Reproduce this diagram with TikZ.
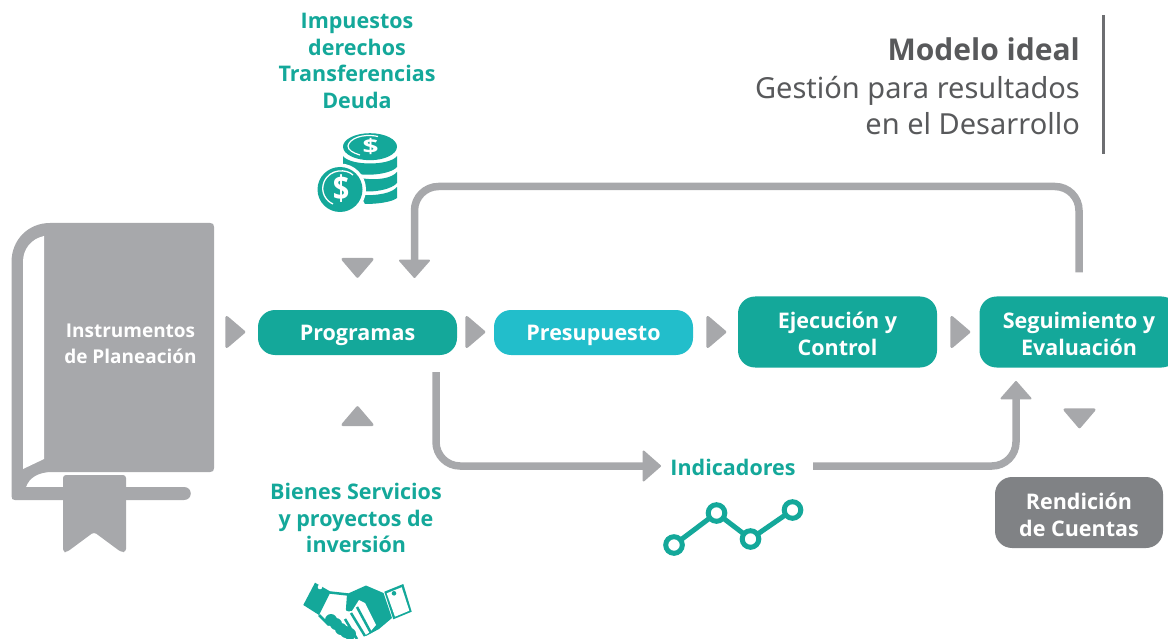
\documentclass[tikz,border=0pt]{standalone}
\usepackage{fontspec}
\setmainfont{Noto Sans}
\newfontfamily\boldfam{Open Sans}
\usepackage{xcolor}
\usetikzlibrary{arrows.meta,shapes.geometric}
\definecolor{tealbox}{HTML}{14A89A}
\definecolor{cyanbox}{HTML}{22BECB}
\definecolor{greyflow}{HTML}{A7A8AB}
\definecolor{greybox}{HTML}{808285}
\definecolor{greybar}{HTML}{6D6E71}
\definecolor{greytext}{HTML}{58595B}
\newcommand{\twolines}[2]{\raisebox{-10pt}[0pt][0pt]{\begin{tabular}{@{}c@{}}#1\\#2\end{tabular}}}
\tikzset{
  stepbox/.style={rounded corners=17pt, minimum width=199pt, fill=tealbox, text=white, align=center, font=\fontsize{21.5}{26.8}\boldfam\bfseries},
  tealtext/.style={text=tealbox, align=center, font=\fontsize{21.5}{26.6}\boldfam\bfseries},
  titletext/.style={text=greytext, align=right, anchor=east, inner sep=0pt, font=\fontsize{29}{36}\selectfont},
  marker/.style={isosceles triangle, isosceles triangle stretches, fill=greyflow, draw=greyflow, line width=3pt, line join=round, inner sep=0pt, minimum height=17pt, minimum width=29pt},
  flow/.style={draw=greyflow, line width=7.5pt, rounded corners=24pt, -{Triangle[round, line width=2pt, width=33pt, length=19pt]}},
}
\begin{document}
\begin{tikzpicture}[x=1pt, y=-1pt]
  \useasboundingbox (0,0) rectangle (1168,639);

  \fill[greyflow] (11.5,262) .. controls (11.5,240) and (28,223) .. (50,223) -- (210,223) .. controls (213,223) and (214,224) .. (214,227)
    -- (214,468) .. controls (214,471) and (213,472) .. (210,472) -- (52,472) .. controls (38,472) and (29,478) .. (26,487) -- (184,487)
    .. controls (193,487) and (193,500) .. (184,500) -- (15,500) .. controls (12.5,500) and (11.5,499) .. (11.5,496) -- cycle;
  \fill[white] (23,262) .. controls (23,249) and (31,239) .. (44,236) -- (44,459) -- (23,469) -- cycle;
  \fill[greyflow, rounded corners=3pt] (63,475) -- (126,475) -- (126,552) -- (121,552) -- (94,532) -- (67,552) -- (63,552) -- cycle;
  \node[text=white, align=center, font=\fontsize{19}{26}\boldfam\bfseries] (plan) at (130.5,344) {Instrumentos\\de Planeación};

  \node[stepbox, minimum height=45pt, text depth=0pt] (prog) at (357.5,332.5) {Programas};
  \node[stepbox, minimum height=45pt, text depth=0pt, fill=cyanbox] (pres) at (593.5,332.5) {Presupuesto};
  \node[stepbox, minimum height=71pt] (ejec) at (837.5,332) {\twolines{Ejecución y}{Control}};
  \node[stepbox, minimum height=71pt] (segu) at (1079,332) {\twolines{Seguimiento y}{Evaluación}};
  \node[stepbox, minimum height=71pt, minimum width=168pt, fill=greybox] (rend) at (1079,512.5) {\twolines{Rendición}{de Cuentas}};

  \node[marker] (m1) at (233.5,332) {};
  \node[marker] (m2) at (473.5,332) {};
  \node[marker] (m3) at (714.5,332) {};
  \node[marker] (m4) at (958.5,332) {};
  \node[marker, shape border rotate=-90] (m5) at (357.5,266) {};
  \node[marker, shape border rotate=90] (m6) at (357.5,418) {};
  \node[marker, shape border rotate=-90] (m7) at (1079.5,416.5) {};

  \node[tealtext] (ingresos) at (357,61) {Impuestos\\derechos\\Transferencias\\Deuda};
  \node[tealtext] (bienes) at (356,518) {Bienes Servicios\\y proyectos de\\inversión};
  \node[tealtext] (indi) at (733,467) {Indicadores};

  \node[titletext, font=\fontsize{30}{36}\boldfam\bfseries] (titulo) at (1080,49) {Modelo ideal};
  \node[titletext] (subtitulo) at (1080,106) {Gestión para resultados\\en el Desarrollo};
  \draw[greybar, line width=3pt] (1103,15) -- (1103,154);

  \coordinate (a) at (1079,272.5);
  \coordinate (b) at (414.5,278);
  \coordinate (c) at (436,372);
  \coordinate (d) at (661,466);
  \coordinate (e) at (813,466);
  \coordinate (f) at (1016,381);
  \draw[flow] (a) -- (1079,186.5) -- (414.5,186.5) -- (b);
  \draw[flow] (c) -- (d -| c) -- (d);
  \draw[flow] (e) -- (e -| f) -- (f);

  % monedas
  \fill[tealbox] (343,156) .. controls (350,166) and (390,166) .. (397,156) -- (397,167) .. controls (390,175) and (360,178) .. (343,170) -- cycle;
  \fill[tealbox] (360,178) .. controls (378,181) and (392,178) .. (397,172) -- (397,183) .. controls (392,189) and (375,193) .. (360,191) -- cycle;
  \fill[tealbox] (360,195) .. controls (378,196) and (392,193) .. (397,187) -- (397,198) .. controls (392,202) and (378,204) .. (365,204) -- cycle;
  \fill[tealbox] (370,146.7) ellipse (27pt and 13.5pt);
  \draw[white, line width=1.2pt] (378,136.5) .. controls (362,133) and (349,139) .. (348,146) .. controls (348,150) and (353,153) .. (360,155);
  \node[text=white, font=\fontsize{20}{20}\boldfam\bfseries] (signo1) at (370.5,146.5) {\scalebox{1.4}[1]{\$}};
  \fill[white] (340,189.5) circle (26pt);
  \fill[tealbox] (340,189.5) circle (22.5pt);
  \draw[white, line width=1.3pt] (353,175) .. controls (347,169) and (330,168) .. (324,182) .. controls (320,192) and (326,201) .. (333,204);
  \node[text=white, font=\fontsize{34}{34}\boldfam\bfseries] (signo2) at (341,189) {\scalebox{.85}[1]{\$}};

  % indicadores
  \draw[tealbox, line width=5pt] (674,545) -- (716.5,513) -- (750.5,539) -- (792.5,510);
  \foreach \x/\y in {674/545, 716.5/513, 750.5/539, 792.5/510}
    \draw[tealbox, line width=5pt, fill=white] (\x,\y) circle (8.3pt);

  % manos
  \fill[tealbox] (315,582.7) -- (330.7,591.7) -- (319,615) -- (303.3,605) -- cycle;
  \fill[white] (320,587) circle (2.3pt);
  \fill[tealbox] (384.3,591.7) -- (403.3,584) -- (411.7,611.7) -- (393.3,619.3) -- cycle;
  \fill[white] (386.7,593.3) -- (401.7,587.3) -- (409.3,610.7) -- (395,616.7) -- cycle;
  \fill[tealbox] (394,593.3) circle (2.3pt);
  \fill[tealbox] (347,594) -- (366,585.5) -- (383.5,593) -- (392,618) -- (379,629) -- (366,636) -- (345,622) -- cycle;
  \draw[tealbox, line width=2.5pt] (330,592.5) -- (348,594.5);
  \draw[tealbox, line width=2.5pt] (319,615) -- (329,625);
  \fill[white] (346,596) -- (345,609) .. controls (346,612) and (350,612) .. (352,611) -- (359,600) -- (365,603) -- (376,625) -- (370,632) -- (358,640) -- (330,622) -- (330,596) -- cycle;
  \draw[tealbox, line width=2.5pt] (357,607) -- (371,633);
  \draw[tealbox, line width=2.5pt] (351,613) -- (365,636);
  \draw[tealbox, line width=2.5pt] (345,619) -- (357,639);
  \foreach \x/\y in {331/620, 336/624, 341/629, 346/632, 350/634}
    \fill[tealbox] (\x,\y) circle (6pt);
\end{tikzpicture}
\end{document}
